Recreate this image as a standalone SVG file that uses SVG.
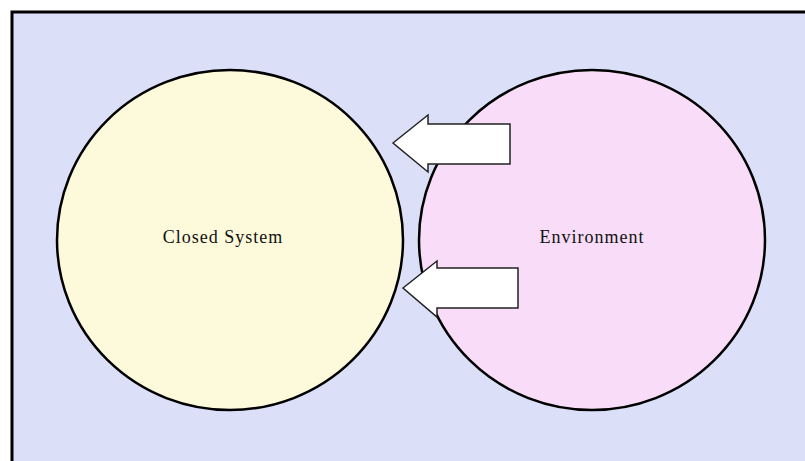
<svg xmlns="http://www.w3.org/2000/svg" width="805" height="461" viewBox="0 0 805 461">
<style>
.circ{stroke:#000;stroke-width:2.5}
.arrow{fill:#fff;stroke:#222;stroke-width:1.5;stroke-linejoin:miter}
.lbl{font-family:"Liberation Serif","DejaVu Serif",serif;font-size:18px;letter-spacing:1px;fill:#111;text-anchor:middle}
</style>
<rect x="0" y="0" width="805" height="461" fill="#fff"/>
<rect x="12" y="12" width="800" height="460" fill="#dbdff8" stroke="#000" stroke-width="3"/>
<g id="closed-system">
<ellipse class="circ" cx="230" cy="240" rx="173" ry="170" fill="#fdfadc"/>
<text class="lbl" x="223" y="243">Closed System</text>
</g>
<g id="environment">
<ellipse class="circ" cx="592" cy="240" rx="173" ry="170" fill="#f9ddf8"/>
<text class="lbl" x="592" y="243">Environment</text>
</g>
<g id="connectors">
<polygon class="arrow" points="393,143 428,115 428,124 510,124 510,164 428,164 428,172"/>
<polygon class="arrow" points="403,288 437,261 437,268 518,268 518,308 437,308 437,317"/>
</g>
</svg>
